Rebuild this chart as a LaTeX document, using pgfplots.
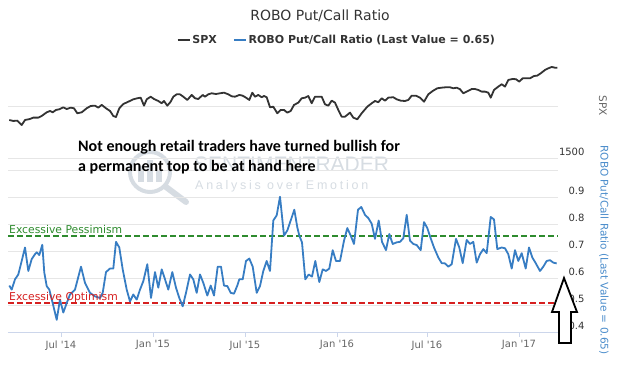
\documentclass[border=0pt]{standalone}
\usepackage{fontspec}
\setmainfont{DejaVu Sans}
\newfontfamily\annotfont{Carlito}
\newfontfamily\wmfont{Liberation Sans}
\usepackage{pgfplots}
\pgfplotsset{compat=1.18}
\definecolor{spx}{HTML}{333333}
\definecolor{robo}{HTML}{377DC3}
\definecolor{robolab}{HTML}{4A8CCB}
\definecolor{gridc}{HTML}{E6E6E6}
\definecolor{axline}{HTML}{CCD6EB}
\definecolor{pessgreen}{HTML}{2E8B2E}
\definecolor{optimred}{RGB}{214,32,32}
\definecolor{tickc}{HTML}{666666}
\definecolor{wm}{HTML}{D6DCE2}

\pgfplotstableread{
x y
9.3 0.572
11.7 0.557
15 0.595
18.3 0.613
21.7 0.663
25 0.713
28.3 0.626
31.7 0.670
35 0.688
36.7 0.695
39.3 0.685
42.3 0.723
44.3 0.620
46.7 0.570
49.3 0.557
52.7 0.507
56.7 0.445
60 0.520
63.3 0.472
66.7 0.507
70 0.539
75 0.557
81 0.642
85 0.582
90 0.545
95 0.532
100 0.526
102.7 0.545
106 0.622
110 0.635
113.3 0.635
116 0.734
119.3 0.713
122.7 0.632
126.7 0.557
130 0.513
133.3 0.539
136.7 0.520
140 0.557
143.3 0.588
147.3 0.651
151 0.526
155 0.622
158.3 0.564
161.7 0.632
165 0.595
168.3 0.557
172.3 0.622
176 0.564
179.3 0.526
182.7 0.495
186 0.545
190 0.613
193.3 0.595
196.7 0.545
200 0.613
203.3 0.582
207.3 0.535
210.7 0.572
214 0.535
217.7 0.642
221 0.642
224 0.572
227.3 0.570
230.7 0.545
234 0.542
237.3 0.572
239.3 0.595
242.7 0.595
246 0.663
249.3 0.672
252.7 0.642
256.7 0.545
260 0.570
263.3 0.626
266.7 0.663
270 0.626
273.3 0.813
276.7 0.832
280 0.901
284 0.757
287.3 0.776
290.7 0.813
294.3 0.853
297.3 0.788
299.3 0.757
302 0.732
305.3 0.595
308.7 0.613
312 0.605
315.3 0.663
319.3 0.585
322.7 0.632
326 0.626
329.3 0.635
332.7 0.703
336 0.663
340 0.663
344 0.738
347.3 0.785
350.7 0.757
354 0.726
358 0.853
361.3 0.863
365 0.834
368.3 0.822
371.7 0.801
375 0.745
378.7 0.813
382 0.734
386 0.703
389.3 0.763
392.7 0.726
396.7 0.732
400 0.734
403.3 0.747
406.7 0.834
410 0.738
413.3 0.726
416.7 0.722
420.7 0.703
424 0.807
427.3 0.785
430.7 0.747
434 0.713
438.3 0.676
441.7 0.655
445 0.654
448.3 0.642
451.7 0.651
456 0.745
459.3 0.713
462.7 0.655
466.7 0.741
470 0.726
473.3 0.734
476.7 0.657
480 0.688
483.3 0.707
486.7 0.692
490.7 0.826
494 0.817
497.3 0.707
501.7 0.713
505 0.710
508.3 0.688
511.7 0.635
515 0.703
518.3 0.663
521.7 0.692
525.7 0.635
529 0.713
532.3 0.676
535.7 0.655
540 0.626
543.3 0.642
546.7 0.663
550 0.666
553.3 0.657
556.7 0.654
}\robotable

\pgfplotstableread{
x y
9.3 1865
13.3 1856
17.3 1859
21.7 1817
25 1865
30 1875
33.3 1888
38.3 1888
41.7 1904
46.7 1939
50 1952
52.7 1939
56 1962
59.3 1968
63.3 1987
66.7 1971
70.7 1984
74 1978
77.3 1930
81.7 1939
86.7 1978
90.7 2000
95 2003
98.3 1984
101.7 2010
106 1978
110 1952
113.3 1904
116 1894
119.3 1978
123.3 2019
128.3 2041
133.3 2064
137.3 2074
140.7 2080
144 2003
146.7 2064
150.7 2089
154 2067
158.3 2048
161.7 2026
164 2048
167.3 2003
170.7 2041
173.3 2089
176.7 2112
180 2112
183.3 2089
187.3 2058
191.7 2106
195 2074
198.3 2067
202.7 2106
205 2089
208.3 2112
211.7 2122
216 2115
220 2122
224 2128
228.3 2112
231.7 2093
235 2089
239.3 2106
242.7 2099
246 2080
249.3 2058
252.3 2128
255 2089
258.3 2106
261.7 2084
264 2096
266.7 2084
270 1987
273.3 1993
277.3 1930
280.7 1962
284 1962
287.3 1936
290.7 1952
294 2010
298.3 2032
301.7 2074
305 2080
308.3 2096
311.7 2026
315 2089
318.3 2089
321.7 2089
325 2016
328.3 2003
331.7 2051
335 2032
338.3 1962
341.7 1897
345 1897
350 1936
353.3 1888
357.3 1872
361.7 1930
367.3 1993
371.7 2026
375 2048
378.3 2036
381.7 2074
385 2051
388.3 2080
393.3 2084
396.7 2064
400.7 2051
405 2048
408.3 2058
411.7 2099
416 2099
420 2080
424 2041
428.3 2112
432.7 2144
437.3 2170
441.7 2176
446 2180
450 2180
453.3 2170
456.7 2176
460 2161
463.3 2122
466.7 2138
471.7 2163
475 2163
478.3 2154
481.7 2138
485 2138
488.3 2128
490.7 2080
494 2154
498.3 2186
501.7 2209
505 2186
508.3 2250
512.7 2260
516 2257
519.3 2234
522.7 2266
526.7 2266
530 2266
534 2288
537.3 2292
540.7 2314
545 2346
548.3 2362
551.7 2375
555 2368
557.3 2368
}\spxtable

\begin{document}
\begin{tikzpicture}
\path[use as bounding box] (0pt,0pt) rectangle (640pt,366pt);

% watermark
\draw[wm, line width=4pt] (150pt,194pt) circle (20pt);
\draw[wm, line width=6pt, line cap=round] (166pt,179pt) -- (186pt,164pt);
\fill[wm] (138pt,184pt) rectangle (144pt,200pt);
\fill[wm] (147pt,184pt) rectangle (153pt,206pt);
\fill[wm] (156pt,184pt) rectangle (162pt,196pt);
\node[anchor=base west, inner sep=0pt, text=wm, font=\wmfont\fontsize{21}{24}\selectfont] at (194pt,194pt) {SENTIMENTRADER};
\node[anchor=base west, inner sep=0pt, text=wm, font=\wmfont\fontsize{12.5}{14}\selectfont\addfontfeature{LetterSpace=22}] at (195pt,176pt) {Analysis over Emotion};

% upper SPX axis
\begin{axis}[
  at={(8pt,208pt)}, anchor=south west, scale only axis,
  width=550pt, height=103pt,
  xmin=8, xmax=558, ymin=1500, ymax=2490,
  hide x axis,
  axis y line*=right, y axis line style={draw=none},
  ytick={1500,2000}, yticklabels={1500,{}},
  ytick style={draw=none},
  ymajorgrids, major grid style={draw=gridc, line width=0.8pt},
  yticklabel style={anchor=east, xshift=30pt, yshift=6pt, text=black!80, font=\fontsize{10}{12}\selectfont},
]
\addplot[spx, line width=1.8pt, line join=round] table[x=x,y=y] {\spxtable};
\end{axis}

% lower ROBO axis
\begin{axis}[
  at={(8pt,34pt)}, anchor=south west, scale only axis,
  width=550pt, height=162pt,
  xmin=8, xmax=558, ymin=0.4, ymax=1.0,
  axis x line*=bottom, axis y line*=right,
  x axis line style={draw=axline, line width=0.9pt},
  y axis line style={draw=none},
  xtick={61,153,245,337,427,519},
  xticklabels={Jul \textquotesingle14, Jan \textquotesingle15, Jul \textquotesingle15, Jan \textquotesingle16, Jul \textquotesingle16, Jan \textquotesingle17},
  xtick align=outside, major tick length=5pt,
  xtick style={draw=axline, line width=0.9pt},
  xticklabel style={text=tickc, font=\fontsize{10}{12}\selectfont},
  ytick={0.4,0.5,0.6,0.7,0.8,0.9,1.0},
  yticklabels={0.4,0.5,0.6,0.7,0.8,0.9,{}},
  ytick style={draw=none},
  ymajorgrids, major grid style={draw=gridc, line width=0.8pt},
  yticklabel style={anchor=east, xshift=30pt, yshift=6pt, text=black!80, font=\fontsize{10}{12}\selectfont},
  legend style={at={(0.598,1.802)}, anchor=center, draw=none, fill=none,
    legend columns=2, text=black!80, font=\bfseries\fontsize{11}{13}\selectfont,
    /tikz/every even column/.append style={column sep=14pt}},
  legend image code/.code={\draw[#1] (0pt,0pt) -- (12pt,0pt);},
]
\addlegendimage{spx, line width=1.5pt}
\addlegendentry{SPX}
\addplot[draw=pessgreen, line width=1.5pt, dash pattern=on 6pt off 3pt, forget plot] coordinates {(8,0.755) (558,0.755)};
\addplot[draw=optimred, line width=1.6pt, dash pattern=on 6pt off 3pt, forget plot] coordinates {(8,0.508) (558,0.508)};
\addplot[robo, line width=1.8pt, line join=round] table[x=x,y=y] {\robotable};
\addlegendentry{ROBO Put/Call Ratio (Last Value = 0.65)}
\node[anchor=base west, inner sep=0pt, text=pessgreen, font=\fontsize{10.8}{12}\selectfont] at (axis cs:9,0.765) {Excessive Pessimism};
\node[anchor=base west, inner sep=0pt, text=optimred, font=\fontsize{10.8}{12}\selectfont] at (axis cs:9,0.515) {Excessive Optimism};
\end{axis}

% titles
\node[text=black!80, font=\fontsize{14}{16}\selectfont] at (320pt,350pt) {ROBO Put/Call Ratio};
\node[rotate=-90, text=tickc, font=\fontsize{10.5}{12}\selectfont] at (603pt,260pt) {SPX};
\node[rotate=-90, text=robolab, font=\fontsize{10.5}{12}\selectfont] at (604pt,116pt) {ROBO Put/Call Ratio (Last Value = 0.65)};

% annotation
\node[anchor=base west, inner sep=0pt, font=\annotfont\bfseries\fontsize{16}{19}\selectfont] at (78pt,214pt) {Not enough retail traders have turned bullish for};
\node[anchor=base west, inner sep=0pt, font=\annotfont\bfseries\fontsize{16}{19}\selectfont] at (78pt,194pt) {a permanent top to be at hand here};

% arrow
\draw[black, fill=white, line width=1.8pt, line join=miter]
  (559pt,23pt) -- (559pt,54pt) -- (552pt,54pt) -- (564pt,88pt) -- (577pt,54pt) -- (571pt,54pt) -- (571pt,23pt) -- cycle;
\end{tikzpicture}
\end{document}
